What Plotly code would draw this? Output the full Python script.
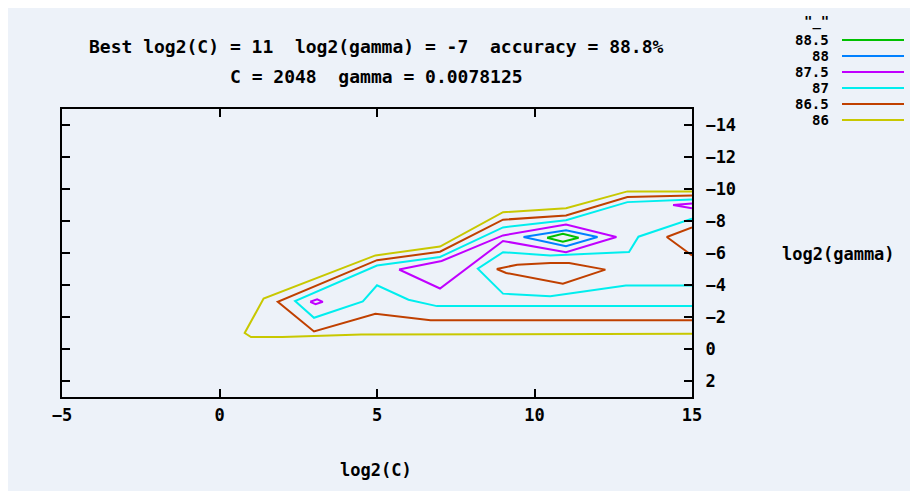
import plotly.graph_objects as go

# ---------------- data ----------------
levels = ["88.5", "88", "87.5", "87", "86.5", "86"]
level_colors = ["#00c000", "#0080ff", "#c000ff", "#00eeee", "#c04000", "#c8c800"]

x_ticks = [-5, 0, 5, 10, 15]
y_ticks = [-14, -12, -10, -8, -6, -4, -2, 0, 2]

# contour polylines: x = log2(C), y = log2(gamma)
c86_x = [15, 12.95, 11.0, 9.0, 7.0, 4.95, 1.4, 0.8, 1.0, 2.0, 4.5, 15]
c86_y = [-9.85, -9.85, -8.8, -8.55, -6.4, -5.85, -3.15, -1.0, -0.75, -0.75, -0.9, -0.95]

c865_x = [15, 12.95, 11.0, 9.0, 7.0, 5.0, 1.85, 3.0, 4.95, 6.7, 15]
c865_y = [-9.6, -9.5, -8.35, -8.08, -6.08, -5.55, -2.95, -1.1, -2.2, -1.8, -1.8]
c865b_x = [8.8, 9.45, 10.5, 11.1, 12.25, 10.9, 9.1, 8.8]
c865b_y = [-5.0, -5.27, -5.37, -5.37, -4.96, -4.08, -4.75, -5.0]
c865c_x = [15, 14.2, 15]
c865c_y = [-7.6, -7.0, -5.85]

c87_x = [15, 12.95, 11.0, 9.0, 7.0, 5.0, 2.4, 3.0, 4.55, 5.0, 6.0, 6.9, 15]
c87_y = [-9.35, -9.18, -8.05, -7.6, -5.75, -5.22, -3.0, -1.95, -2.97, -3.98, -3.08, -2.68, -2.68]
c87b_x = [15, 13.3, 13.0, 10.5, 9.0, 8.2, 9.0, 10.5, 12.9, 15]
c87b_y = [-8.14, -7.02, -6.06, -5.85, -6.05, -5.02, -3.46, -3.29, -3.97, -3.97]

c875_x = [5.7, 7.05, 9.0, 11.0, 12.6, 11.0, 9.0, 7.0, 5.7]
c875_y = [-4.97, -5.5, -7.1, -7.78, -7.0, -6.05, -6.75, -3.78, -4.97]
c875b_x = [2.88, 3.1, 3.28, 3.05, 2.88]
c875b_y = [-2.95, -3.1, -2.95, -2.8, -2.95]
c875c_x = [15, 14.4, 15]
c875c_y = [-9.1, -9.0, -8.8]

c88_x = [9.65, 11.0, 12.0, 11.0, 9.65]
c88_y = [-7.0, -7.42, -7.0, -6.42, -7.0]

c885_x = [10.4, 10.9, 11.4, 10.9, 10.4]
c885_y = [-6.95, -7.2, -6.95, -6.7, -6.95]

segments = [
    ("86", c86_x, c86_y),
    ("86.5", c865_x, c865_y),
    ("86.5", c865b_x, c865b_y),
    ("86.5", c865c_x, c865c_y),
    ("87", c87_x, c87_y),
    ("87", c87b_x, c87b_y),
    ("87.5", c875_x, c875_y),
    ("87.5", c875b_x, c875b_y),
    ("87.5", c875c_x, c875c_y),
    ("88", c88_x, c88_y),
    ("88.5", c885_x, c885_y),
]

title1 = "Best log2(C) = 11  log2(gamma) = -7  accuracy = 88.8%"
title2 = "C = 2048  gamma = 0.0078125"
legend_title = '"_"'
x_label = "log2(C)"
y_label = "log2(gamma)"

# ---------------- layout ----------------
W, H = 910, 483
ML, MR, MT, MB = 54, 226, 101, 94
PW, PH = W - ML - MR, H - MT - MB
BG = "#edf2f9"
FONT = dict(family="DejaVu Sans Mono", size=17, color="black", weight="bold")
TITLE_FONT = dict(FONT, size=18)
LEG_FONT = dict(FONT, size=14)


def fx(xp):
    return (xp - 8 - ML) / PW


def fy(yp):
    return 1 - (yp - 8 - MT) / PH


color_of = dict(zip(levels, level_colors))

fig = go.Figure()
for lvl, xs, ys in segments:
    fig.add_trace(go.Scatter(
        x=xs, y=ys, mode="lines", name=lvl, showlegend=False,
        line=dict(color=color_of[lvl], width=2), hoverinfo="skip",
    ))

annotations = [
    dict(text=title1, x=fx(376), y=fy(46), xanchor="center", yanchor="middle", font=TITLE_FONT),
    dict(text=title2, x=fx(376), y=fy(76), xanchor="center", yanchor="middle", font=TITLE_FONT),
    dict(text=x_label, x=fx(376), y=fy(470), xanchor="center", yanchor="middle", font=FONT),
    dict(text=y_label, x=fx(780), y=fy(254), xanchor="left", yanchor="middle", font=FONT),
    dict(text=legend_title, x=fx(831), y=fy(21), xanchor="right", yanchor="middle", font=LEG_FONT),
]
shapes = []
for i, (lvl, col) in enumerate(zip(levels, level_colors)):
    yy = 40 + 16 * i
    annotations.append(dict(text=lvl, x=fx(831), y=fy(yy), xanchor="right",
                            yanchor="middle", font=LEG_FONT))
    shapes.append(dict(type="line", xref="paper", yref="paper",
                       x0=fx(842), x1=fx(904), y0=fy(yy), y1=fy(yy),
                       line=dict(color=col, width=2)))

for a in annotations:
    a.update(xref="paper", yref="paper", showarrow=False)

axis_common = dict(
    showgrid=False, zeroline=False, showline=True, linecolor="black", linewidth=2,
    ticks="inside", ticklen=8, tickwidth=2, tickcolor="black", mirror="ticks",
    tickfont=FONT,
)

fig.update_layout(
    width=W, height=H,
    margin=dict(l=ML, r=MR, t=MT, b=MB, pad=0),
    paper_bgcolor=BG, plot_bgcolor=BG,
    showlegend=False,
    xaxis=dict(range=[-5, 15], tickvals=x_ticks, ticklabelstandoff=2, **axis_common),
    yaxis=dict(range=[3, -15], tickvals=y_ticks, side="right", ticklabelstandoff=8,
               **axis_common),
    annotations=annotations,
    shapes=shapes,
)

fig.write_html("out.html")
